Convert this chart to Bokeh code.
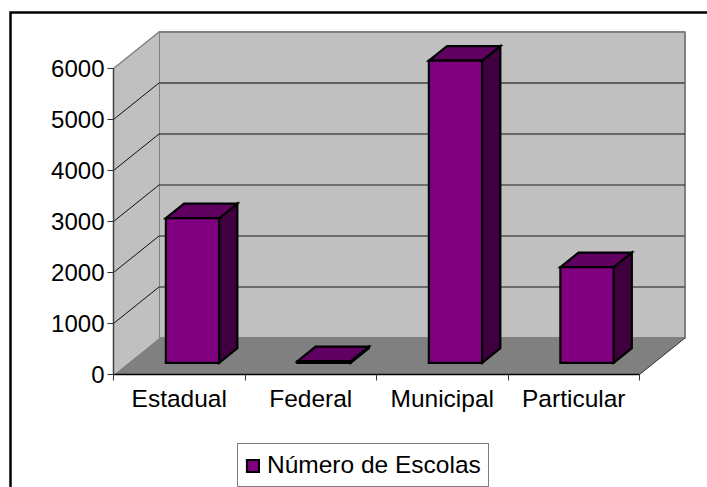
from bokeh.plotting import figure
from bokeh.models import Range1d, FixedTicker, Legend, LegendItem, LinearAxis
from bokeh.embed import file_html
from bokeh.resources import INLINE

categories = ["Estadual", "Federal", "Municipal", "Particular"]
numero_de_escolas = [2835, 30, 5925, 1875]
y_ticks = [0, 1000, 2000, 3000, 4000, 5000, 6000]
series_name = "Número de Escolas"

FONT = "Liberation Sans"
W, H = 707, 487
OX, OY = 113, 374            # canvas position of the axes' origin
CAT_PX = 131.5               # pixels per category
VAL_PX = 306 / 6000          # pixels per value unit
DX = 45.5 / CAT_PX           # full chart depth, in category units
DY = 36.5 / VAL_PX           # full chart depth, in value units
BAR_W = 0.405
BAR_C = 0.49
D0, D1 = 0.32, 0.72

p = figure(width=W, height=H, output_backend="svg", toolbar_location=None,
           x_range=Range1d(-OX / CAT_PX, (W - OX) / CAT_PX),
           y_range=Range1d(-(H - OY) / VAL_PX, OY / VAL_PX),
           x_axis_location=None, y_axis_location=None,
           min_border=0, outline_line_color=None,
           background_fill_color="white", border_fill_color="white")
p.grid.visible = False


def pr(x, v, d):
    return x + d * DX, v + d * DY


def poly(points):
    pts = [pr(*q) for q in points]
    return [a for a, _ in pts], [b for _, b in pts]


xmax, vmax = len(categories), max(y_ticks)

# walls and floor
fx, fy = poly([(0, 0, 0), (xmax, 0, 0), (xmax, 0, 1), (0, 0, 1)])
p.patch(fx, fy, fill_color="#808080", line_color=None)
bx, by = poly([(0, 0, 1), (xmax, 0, 1), (xmax, vmax, 1), (0, vmax, 1)])
p.patch(bx, by, fill_color="#C0C0C0", line_color="#808080", line_width=2)
sx, sy = poly([(0, 0, 0), (0, 0, 1), (0, vmax, 1), (0, vmax, 0)])
p.patch(sx, sy, fill_color="#C0C0C0", line_color=None)

lx, ly = poly([(0, 0, 1), (xmax, 0, 1)])
p.line(lx, ly, line_color="#808080", line_width=2)

# gridlines
grid_colors = {1000: "#505050", 2000: "#505050", 3000: "#202020", 4000: "#101010", 5000: "#606060", 6000: "#808080"}
grid_widths = {1000: 1.5, 2000: 1.5, 3000: 1, 4000: 1, 5000: 2, 6000: 2}
for v in y_ticks[1:]:
    gx, gy = poly([(0, v, 0), (0, v, 1), (xmax, v, 1)])
    p.line(gx[1:], gy[1:], line_color=grid_colors[v], line_width=grid_widths[v])
    p.line(gx[:2], gy[:2], line_color="#808080" if v == vmax else "#101010",
           line_width=1.5 if v == vmax else 1)
ex, ey = poly([(xmax, 0, 0), (xmax, 0, 1)])
p.line(ex, ey, line_color="#303030", line_width=1)

# bars
front = None
for i, val in enumerate(numero_de_escolas):
    l, r = i + BAR_C - BAR_W / 2, i + BAR_C + BAR_W / 2
    kw = dict(line_color="black", line_width=2.2, line_join="miter")
    x1, y1 = poly([(r, 0, D0), (r, 0, D1), (r, val, D1), (r, val, D0)])
    p.patch(x1, y1, fill_color="#400040", **kw)
    x2, y2 = poly([(l, val, D0), (r, val, D0), (r, val, D1), (l, val, D1)])
    p.patch(x2, y2, fill_color="#600060", **kw)
    a, b0 = pr(l, 0, D0)
    c, b1 = pr(r, val, D0)
    q = p.quad(left=[a], right=[c], bottom=[b0], top=[b1], fill_color="#800080", **kw)
    if front is None:
        front = q

# axes, pinned to the origin so that they take no panel space
xa = LinearAxis(fixed_location=0)
xa.ticker = FixedTicker(ticks=[i + 0.5 for i in range(xmax)], minor_ticks=list(range(xmax + 1)))
xa.major_label_overrides = {i + 0.5: c for i, c in enumerate(categories)}
xa.bounds = (0, xmax)
xa.major_tick_in = 0
xa.major_tick_out = 0
xa.minor_tick_in = 0
xa.minor_tick_out = 6
xa.minor_tick_line_color = "#303030"
xa.axis_line_color = "black"
xa.axis_line_width = 1.5
xa.major_label_text_font = FONT
xa.major_label_text_font_size = "24.5px"
xa.major_label_text_color = "black"
xa.major_label_standoff = 4
p.add_layout(xa, "below")

ya = LinearAxis(fixed_location=0)
ya.ticker = FixedTicker(ticks=y_ticks)
ya.bounds = (0, vmax)
ya.major_tick_in = 0
ya.major_tick_out = 6
ya.major_tick_line_color = "#303030"
ya.minor_tick_line_color = None
ya.axis_line_color = "#404040"
ya.axis_line_width = 1.5
ya.major_label_text_font = FONT
ya.major_label_text_font_size = "24px"
ya.major_label_text_color = "black"
ya.major_label_standoff = 3
p.add_layout(ya, "left")

# legend
legend = Legend(items=[LegendItem(label=series_name, renderers=[front])],
                location=(237, 0), orientation="vertical", margin=0, padding=7, spacing=0,
                glyph_width=15, glyph_height=15, label_standoff=7,
                label_text_font=FONT, label_text_font_size="24.5px", label_text_color="black",
                border_line_color="black", border_line_width=1, background_fill_alpha=1,
                background_fill_color="white")
p.add_layout(legend, "center")

# chart-area border (left and top only)
p.line([(10 - OX) / CAT_PX, (10 - OX) / CAT_PX, (W - OX) / CAT_PX],
       [-(H - OY) / VAL_PX, (OY - 12) / VAL_PX, (OY - 12) / VAL_PX],
       line_color="black", line_width=2.5, line_join="miter")

open("out.html", "w").write(file_html(p, INLINE))
